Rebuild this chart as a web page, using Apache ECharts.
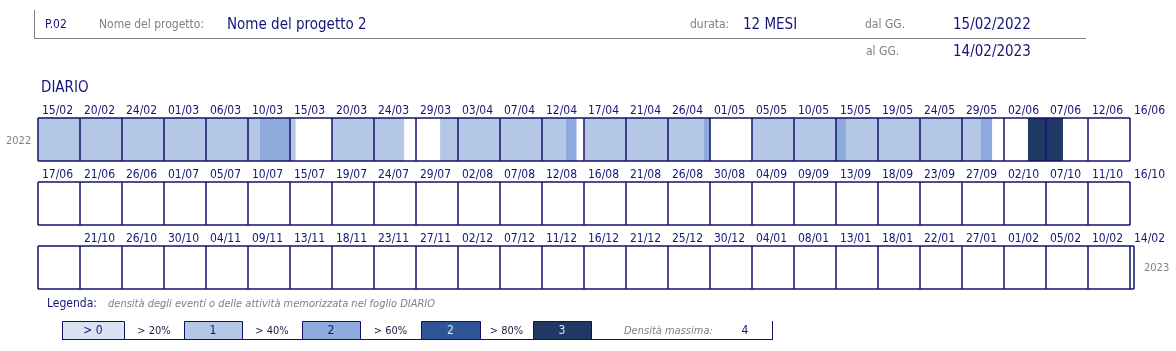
<!DOCTYPE html>
<html>
<head>
<meta charset="utf-8">
<script src="https://cdn.jsdelivr.net/npm/echarts@6/dist/echarts.min.js"></script>
<style>
  html, body { margin: 0; padding: 0; background: #fff; }
  #chart { width: 1176px; height: 351px; }
</style>
</head>
<body>
<div id="chart"></div>
<script>
// tick labels of the three calendar rows (26 cells each)
const row1Ticks = ['15/02','20/02','24/02','01/03','06/03','10/03','15/03','20/03','24/03','29/03','03/04','07/04','12/04','17/04','21/04','26/04','01/05','05/05','10/05','15/05','19/05','24/05','29/05','02/06','07/06','12/06','16/06']
const row2Ticks = ['17/06','21/06','26/06','01/07','05/07','10/07','15/07','19/07','24/07','29/07','02/08','07/08','12/08','16/08','21/08','26/08','30/08','04/09','09/09','13/09','18/09','23/09','27/09','02/10','07/10','11/10','16/10']
const row3Ticks = ['','21/10','26/10','30/10','04/11','09/11','13/11','18/11','23/11','27/11','02/12','07/12','11/12','16/12','21/12','25/12','30/12','04/01','08/01','13/01','18/01','22/01','27/01','01/02','05/02','10/02','14/02']
const yearLabels = ['2022', '2023']

// density segments: days counted from 15/02/2022, level = legend band
const segStart = [0, 24.7, 28.1, 32.8, 44.8, 58.8, 60.9, 74.2, 79.6, 88.9, 90.1, 105.0, 110.3]
const segEnd = [24.7, 28.1, 28.7, 40.8, 58.8, 60.0, 74.2, 74.9, 88.9, 90.1, 105.0, 106.3, 114.2]
const segLevel = [1, 2, 1, 1, 1, 2, 1, 2, 1, 2, 1, 2, 4]

// legend bands
const bandLabels = ['> 0', '1', '2', '2', '3']
const bandColors = ['#dae3f3', '#b4c7e7', '#8faadc', '#2f5597', '#203864']
const bandThresholds = ['> 20%', '> 40%', '> 60%', '> 80%']
const maxDensity = 4

const DAYS_PER_CELL = 365 / 78
const CELLS = 26
const NAVY = '#10106b'
const TEXT = '#14147a'
const GREY = '#808080'
const FONT = "Tahoma, 'DejaVu Sans Condensed', 'Liberation Sans', sans-serif"

// split the segments into the three rows (cell units)
const rowData = [[], [], []]
segStart.forEach((s, i) => {
  let a = s / DAYS_PER_CELL
  const b = segEnd[i] / DAYS_PER_CELL
  while (a < b) {
    const r = Math.floor(a / CELLS + 1e-9)
    const rowEnd = (r + 1) * CELLS
    const e = Math.min(b, rowEnd)
    rowData[r].push([a - r * CELLS, e - r * CELLS, segLevel[i]])
    a = e
  }
})

const ticks = [row1Ticks, row2Ticks, row3Ticks]
const tops = [118, 182, 246]
const maxes = [26, 26, 26.095]

const grids = tops.map((t, i) => ({ left: 38, top: t, width: maxes[i] * 42, height: 43 }))
const xAxes = ticks.map((tk, i) => ({
  type: 'value',
  gridIndex: i,
  position: 'top',
  min: 0,
  max: maxes[i],
  interval: 1,
  z: 5,
  axisLine: { show: false },
  axisTick: { show: false },
  splitLine: { show: true, lineStyle: { color: NAVY, width: 1.5 } },
  axisLabel: {
    show: true,
    align: 'left',
    margin: 1,
    padding: [0, 0, 0, 4],
    color: TEXT,
    fontSize: 12,
    fontFamily: FONT,
    showMinLabel: true,
    showMaxLabel: true,
    formatter: (v) => (Math.abs(v - Math.round(v)) < 1e-6 ? (tk[Math.round(v)] || '') : '')
  }
}))
const yAxes = ticks.map((tk, i) => ({
  type: 'value',
  gridIndex: i,
  min: 0,
  max: 1,
  interval: 1,
  z: 5,
  axisLine: { show: false },
  axisTick: { show: false },
  axisLabel: { show: false },
  splitLine: { show: true, lineStyle: { color: NAVY, width: 1.5 } }
}))

const series = rowData.map((d, i) => ({
  type: 'custom',
  xAxisIndex: i,
  yAxisIndex: i,
  z: 1,
  silent: true,
  encode: { x: [0, 1] },
  data: d,
  renderItem: (params, api) => {
    const p0 = api.coord([api.value(0), 1])
    const p1 = api.coord([api.value(1), 0])
    return {
      type: 'rect',
      shape: { x: p0[0], y: p0[1], width: p1[0] - p0[0], height: p1[1] - p0[1] },
      style: { fill: bandColors[api.value(2)] }
    }
  }
}))

function txt (x, y, text, color, size, extra) {
  return {
    type: 'text',
    x: x,
    y: y,
    style: Object.assign({
      text: text,
      fill: color,
      fontSize: size,
      fontFamily: FONT,
      verticalAlign: 'middle',
      align: 'left'
    }, extra || {})
  }
}
function line (x1, y1, x2, y2, color, w) {
  return { type: 'line', shape: { x1, y1, x2, y2 }, style: { stroke: color, lineWidth: w || 1 } }
}

const graphic = [
  // header
  line(34.5, 10, 34.5, 38, GREY),
  line(34, 38.5, 1086, 38.5, GREY),
  txt(45, 25, 'P.02', TEXT, 12),
  txt(99, 25, 'Nome del progetto:', GREY, 12),
  txt(227, 25, 'Nome del progetto 2', TEXT, 15),
  txt(690, 25, 'durata:', GREY, 12),
  txt(743, 25, '12 MESI', TEXT, 15),
  txt(865, 25, 'dal GG.', GREY, 12),
  txt(953, 25, '15/02/2022', TEXT, 15),
  txt(866, 52, 'al GG.', GREY, 12),
  txt(953, 52, '14/02/2023', TEXT, 15),
  txt(41, 88, 'DIARIO', TEXT, 15),
  // years
  txt(6, 141, yearLabels[0], GREY, 11),
  txt(1144, 268, yearLabels[1], GREY, 11),
  // legend
  txt(47, 304, 'Legenda:', TEXT, 12),
  txt(108, 304, 'densità degli eventi o delle attività memorizzata nel foglio DIARIO', GREY, 11, { fontStyle: 'italic' })
]

const boxLeft = [62, 184, 302, 421, 533]
const boxW = [62, 58, 58, 59, 58]
bandLabels.forEach((lab, i) => {
  graphic.push({
    type: 'rect',
    shape: { x: boxLeft[i] + 0.5, y: 321.5, width: boxW[i], height: 18 },
    style: { fill: bandColors[i], stroke: NAVY, lineWidth: 1 }
  })
  graphic.push(txt(boxLeft[i] + boxW[i] / 2, 331, lab, i >= 3 ? '#dae3f3' : TEXT, 12, { align: 'center' }))
})
bandThresholds.forEach((lab, i) => {
  const c = (boxLeft[i] + boxW[i] + boxLeft[i + 1]) / 2
  graphic.push(txt(c, 331, lab, '#1a1a40', 11, { align: 'center' }))
})
graphic.push(txt(624, 331, 'Densità massima:', GREY, 11, { fontStyle: 'italic' }))
graphic.push(txt(745, 331, String(maxDensity), TEXT, 12, { align: 'center' }))
graphic.push(line(62, 339.5, 772, 339.5, NAVY))
graphic.push(line(772.5, 321, 772.5, 340, NAVY))

const chart = echarts.init(document.getElementById('chart'), null, { renderer: 'canvas' })
chart.setOption({
  animation: false,
  backgroundColor: '#fff',
  grid: grids,
  xAxis: xAxes,
  yAxis: yAxes,
  series: series,
  graphic: graphic
})
</script>
</body>
</html>
